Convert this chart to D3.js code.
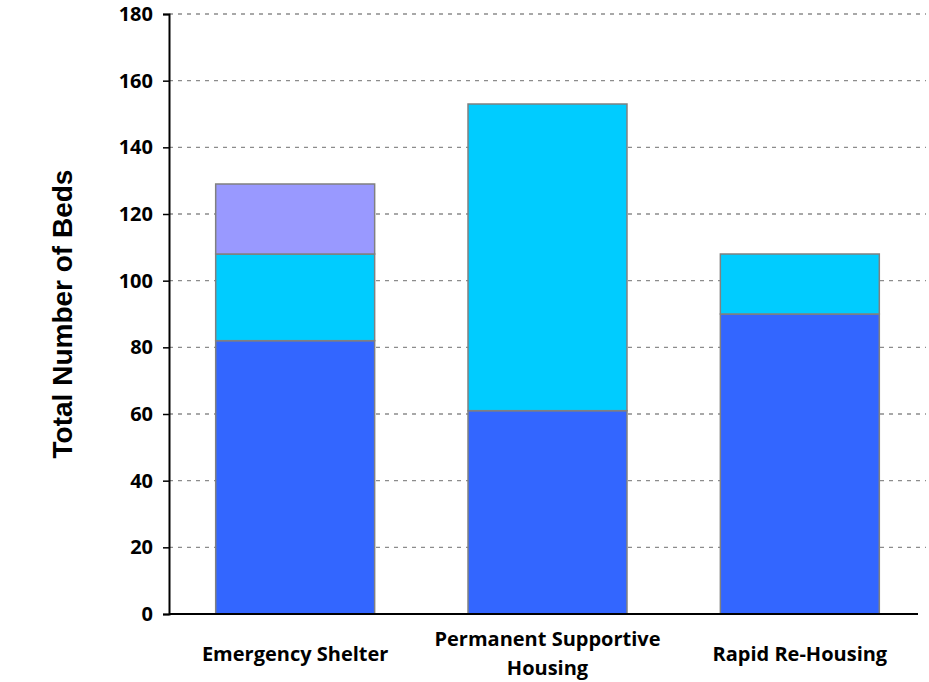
<!DOCTYPE html>
<html>
<head>
<meta charset="utf-8">
<script src="https://cdn.jsdelivr.net/npm/d3@7"></script>
<style>
  body { margin: 0; background: #fff; }
  text { font-family: "Open Sans", sans-serif; font-weight: bold; fill: #000; }
</style>
</head>
<body>
<div id="chart"></div>
<script>
// data
var categories = ['Emergency Shelter', 'Permanent Supportive Housing', 'Rapid Re-Housing'];
var catLines = [['Emergency Shelter'], ['Permanent Supportive', 'Housing'], ['Rapid Re-Housing']];
var seriesNames = ['s1', 's2', 's3'];
var s1 = [82, 61, 90];
var s2 = [26, 92, 18];
var s3 = [21, 0, 0];
var yTicks = [0, 20, 40, 60, 80, 100, 120, 140, 160, 180];
var colors = ['#3366FF', '#00CCFF', '#9999FF'];

var width = 929, height = 682,
	margin = {top: 14, right: 3, bottom: 68, left: 169};

var rows = categories.map(function(c, i){
	return {cat: c, s1: s1[i], s2: s2[i], s3: s3[i]};
});
var stacked = d3.stack().keys(seriesNames)(rows);

var svg = d3.select('#chart').append('svg')
	.attr('width', width)
	.attr('height', height);

var x = d3.scaleBand().domain(categories)
	.range([margin.left, width - margin.right])
	.paddingInner(0.37).paddingOuter(0.185);
var y = d3.scaleLinear().domain([0, 180])
	.range([height - margin.bottom, margin.top]);

// gridlines
svg.append('g').selectAll('line').data(yTicks.slice(1)).enter().append('line')
	.attr('x1', margin.left).attr('x2', width - margin.right)
	.attr('y1', function(d){ return y(d); })
	.attr('y2', function(d){ return y(d); })
	.style('stroke', '#8c8c8c')
	.style('stroke-width', 1.4)
	.style('stroke-dasharray', '4,5');

// bars
svg.append('g').selectAll('g').data(stacked).enter().append('g')
	.style('fill', function(d, i){ return colors[i]; })
	.selectAll('rect').data(function(d){ return d.filter(function(p){ return p[1] > p[0]; }); })
	.enter().append('rect')
	.attr('x', function(d){ return x(d.data.cat); })
	.attr('width', x.bandwidth())
	.attr('y', function(d){ return y(d[1]); })
	.attr('height', function(d){ return y(d[0]) - y(d[1]); })
	.style('stroke', '#808080')
	.style('stroke-width', 1.5);

// y axis
var yAxis = svg.append('g')
	.attr('transform', 'translate(' + margin.left + ',0)')
	.call(d3.axisLeft(y).tickValues(yTicks).tickSize(6).tickPadding(10));
yAxis.select('.domain').style('stroke', '#000').style('stroke-width', 2);
yAxis.selectAll('.tick line').style('stroke', '#000').style('stroke-width', 1.5);
yAxis.selectAll('text').style('font-size', '20px').style('font-family', '"Open Sans", sans-serif').style('font-weight', 'bold');

// x axis line
svg.append('line')
	.attr('x1', margin.left).attr('x2', width - 11)
	.attr('y1', y(0)).attr('y2', y(0))
	.style('stroke', '#000').style('stroke-width', 2);

// category labels
svg.append('g').selectAll('text').data(categories).enter().append('text')
	.attr('text-anchor', 'middle')
	.style('font-size', '20px')
	.attr('transform', function(d){ return 'translate(' + (x(d) + x.bandwidth() / 2) + ',0)'; })
	.each(function(d, i){
		var lines = catLines[i];
		var t = d3.select(this);
		lines.forEach(function(l, j){
			t.append('tspan').attr('x', 0)
				.attr('y', lines.length > 1 ? 646 + j * 29 : 661)
				.text(l);
		});
	});

// y title
svg.append('text')
	.attr('transform', 'translate(72,' + ((margin.top + height - margin.bottom) / 2) + ') rotate(-90)')
	.attr('text-anchor', 'middle')
	.style('font-family', '"Liberation Sans", Arial, sans-serif')
	.style('font-size', '28px')
	.text('Total Number of Beds');
</script>
</body>
</html>
